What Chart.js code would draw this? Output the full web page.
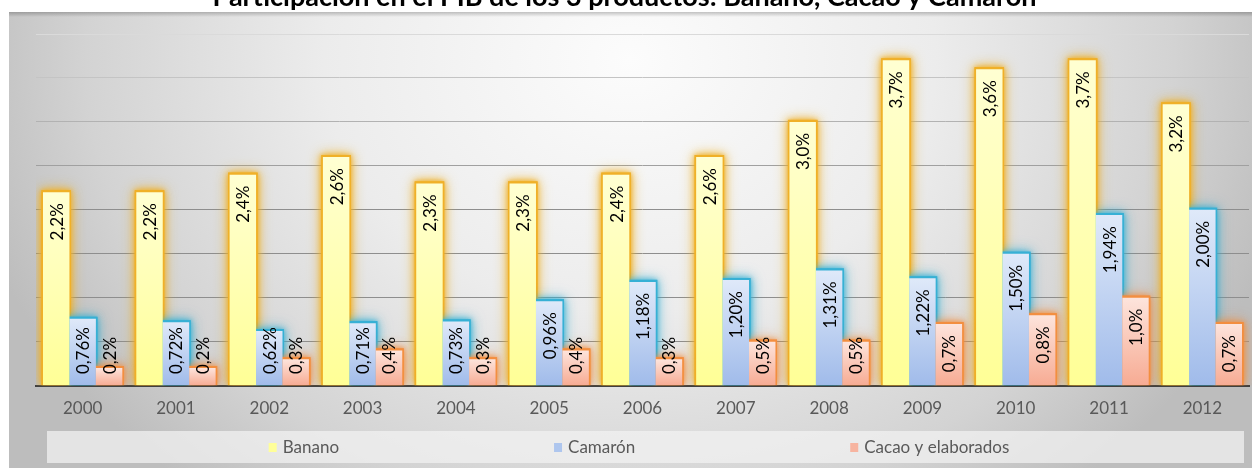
<!DOCTYPE html>
<html>
<head>
<meta charset="utf-8">
<title>Participación en el PIB</title>
<script src="https://cdn.jsdelivr.net/npm/chart.js@4.4.1/dist/chart.umd.min.js"></script>
<style>
  html, body { margin: 0; padding: 0; background: #fff; }
  #wrap { width: 1252px; height: 468px; }
</style>
</head>
<body>
<div id="wrap"><canvas id="pibChart" width="1252" height="468"></canvas></div>
<script>
  // datos (% del PIB)
  var years = ['2000', '2001', '2002', '2003', '2004', '2005', '2006', '2007', '2008', '2009', '2010', '2011', '2012'];
  var banano = [2.2, 2.2, 2.4, 2.6, 2.3, 2.3, 2.4, 2.6, 3.0, 3.7, 3.6, 3.7, 3.2];
  var camaron = [0.76, 0.72, 0.62, 0.71, 0.73, 0.96, 1.18, 1.20, 1.31, 1.22, 1.50, 1.94, 2.00];
  var cacao = [0.2, 0.2, 0.3, 0.4, 0.3, 0.4, 0.3, 0.5, 0.5, 0.7, 0.8, 1.0, 0.7];
  var seriesNames = ['Banano', 'Camarón', 'Cacao y elaborados'];
  var labelDecimals = [1, 2, 1];
  var yMin = 0, yMax = 4, yStep = 0.5;
  var chartTitle = 'Participación en el PIB de los 3 productos: Banano, Cacao y Camarón';

  var FONT = 'Lato';
  var fillStops = [['#ffffd2', '#ffff96'], ['#dfe9f9', '#a0bbea'], ['#fde4dc', '#f7ab93']];
  var legendColors = ['#ffff99', '#aec6ee', '#f7b4a0'];
  var glowColors = ['rgba(240,176,40,0.85)', 'rgba(55,176,212,0.8)', 'rgba(242,142,64,0.8)'];

  function barFill(i) {
    return function(c) {
      var chart = c.chart;
      if (!chart.chartArea || c.type !== 'data') { return fillStops[i][1]; }
      var y = chart.scales.y;
      var g = chart.ctx.createLinearGradient(0, y.getPixelForValue(c.raw), 0, y.getPixelForValue(0));
      g.addColorStop(0, fillStops[i][0]);
      g.addColorStop(1, fillStops[i][1]);
      return g;
    };
  }

  function gridColor(c) {
    var v = c.tick ? c.tick.value : 0;
    if (v >= 4) return '#dadada';
    if (v >= 3.5) return '#c4c4c4';
    if (v >= 3) return '#b2b2b2';
    if (v >= 2.5) return '#a0a0a0';
    return '#8e8e8e';
  }

  function fmt(v, dec) {
    return v.toFixed(dec).replace('.', ',') + '%';
  }

  // fondo gris con degradado (estilo Excel)
  var fondoPlugin = {
    id: 'fondo',
    beforeDraw: function(chart) {
      var ctx = chart.ctx, w = chart.width, h = chart.height;
      ctx.save();
      ctx.fillStyle = '#fff';
      ctx.fillRect(0, 0, w, h);
      var cx = 630, cy = 60, rx = 680, ry = 560;
      ctx.beginPath();
      ctx.rect(9, 12, w - 9, h - 12);
      ctx.clip();
      ctx.translate(cx, cy);
      ctx.scale(1, ry / rx);
      var g = ctx.createRadialGradient(0, 0, 0, 0, 0, rx);
      g.addColorStop(0, '#fcfcfc');
      g.addColorStop(0.45, '#ececec');
      g.addColorStop(0.8, '#d3d3d3');
      g.addColorStop(1, '#bdbdbd');
      ctx.fillStyle = g;
      ctx.fillRect(-cx, -cy * rx / ry, w * 2, h * 2 * rx / ry);
      ctx.restore();
      ctx.save();
      var t = ctx.createLinearGradient(0, 12, 0, 17);
      t.addColorStop(0, 'rgba(0,0,0,0.22)');
      t.addColorStop(1, 'rgba(0,0,0,0)');
      ctx.fillStyle = t;
      ctx.fillRect(9, 12, w - 9, 5);
      ctx.restore();
    }
  };

  // brillo alrededor de las barras y etiquetas verticales
  var brilloPlugin = {
    id: 'brillo',
    beforeDatasetsDraw: function(chart) {
      var ctx = chart.ctx, area = chart.chartArea;
      ctx.save();
      ctx.beginPath();
      ctx.rect(area.left, area.top - 25, area.right - area.left + 10, area.bottom - area.top + 25);
      ctx.clip();
      chart.data.datasets.forEach(function(ds, i) {
        var meta = chart.getDatasetMeta(i);
        [14, 8, 4].forEach(function(blur) {
          ctx.save();
          ctx.shadowColor = glowColors[i];
          ctx.shadowBlur = blur;
          ctx.fillStyle = glowColors[i];
          meta.data.forEach(function(bar) {
            var p = bar.getProps(['x', 'y', 'base', 'width'], true);
            ctx.fillRect(p.x - p.width / 2 - 1.5, p.y - 2, p.width + 3, p.base - p.y + 2);
          });
          ctx.restore();
        });
      });
      ctx.restore();
    },
    afterDatasetsDraw: function(chart) {
      var ctx = chart.ctx, pad = 11;
      ctx.save();
      ctx.font = '17px ' + FONT;
      ctx.fillStyle = '#000';
      ctx.textAlign = 'right';
      ctx.textBaseline = 'middle';
      chart.data.datasets.forEach(function(ds, i) {
        var meta = chart.getDatasetMeta(i);
        meta.data.forEach(function(bar, j) {
          var p = bar.getProps(['x', 'y', 'base'], true);
          var txt = fmt(ds.data[j], labelDecimals[i]);
          var len = ctx.measureText(txt).width;
          var top = p.y + pad;
          if (top + len > p.base - pad) { top = p.base - pad - len; }
          ctx.save();
          ctx.translate(p.x + 1, top);
          ctx.rotate(-Math.PI / 2);
          ctx.fillText(txt, 0, 0);
          ctx.restore();
        });
      });
      ctx.restore();
    }
  };

  // leyenda dentro de una banda gris clara
  var leyendaPlugin = {
    id: 'leyenda',
    afterDraw: function(chart) {
      var ctx = chart.ctx;
      var boxL = 47, boxT = 431, boxW = 1197, boxH = 32, gap = 215, center = 639, midY = 448;
      ctx.save();
      ctx.fillStyle = 'rgba(242,242,242,0.72)';
      ctx.fillRect(boxL, boxT, boxW, boxH);
      ctx.font = '17px ' + FONT;
      ctx.textBaseline = 'middle';
      ctx.textAlign = 'left';
      var items = chart.data.datasets.map(function(ds, i) {
        return { text: ds.label, color: legendColors[i], w: 8 + 6 + ctx.measureText(ds.label).width };
      });
      var total = items.reduce(function(s, it) { return s + it.w; }, 0) + gap * (items.length - 1);
      var x = center - total / 2;
      items.forEach(function(it) {
        ctx.fillStyle = it.color;
        ctx.fillRect(x, midY - 5, 8, 9);
        ctx.fillStyle = '#595959';
        ctx.fillText(it.text, x + 14, midY);
        x += it.w + gap;
      });
      ctx.restore();
    }
  };

  function init() {
    var ctx = document.getElementById('pibChart').getContext('2d');
    var series = [banano, camaron, cacao];

    new Chart(ctx, {
      type: 'bar',
      data: {
        labels: years,
        datasets: series.map(function(values, i) {
          return {
            label: seriesNames[i],
            data: values,
            backgroundColor: barFill(i),
            borderWidth: 0,
            barPercentage: 1,
            categoryPercentage: 0.85
          };
        })
      },
      options: {
        responsive: false,
        animation: false,
        layout: { padding: { left: 0, right: 3, top: 0, bottom: 36 } },
        plugins: {
          legend: { display: false },
          tooltip: { enabled: false },
          title: {
            display: true,
            text: chartTitle,
            color: '#000',
            font: { family: FONT, size: 27, weight: 'bold', lineHeight: 1 },
            padding: { top: -16, bottom: 23 }
          }
        },
        scales: {
          x: {
            grid: { display: false, drawTicks: false },
            border: { display: true, color: '#404040', width: 2 },
            ticks: { color: '#595959', font: { family: FONT, size: 17 }, padding: 13, maxRotation: 0 }
          },
          y: {
            min: yMin,
            max: yMax,
            afterFit: function(scale) { scale.width = 36; },
            ticks: { display: false, stepSize: yStep },
            grid: { color: gridColor, lineWidth: 1, drawTicks: false },
            border: { display: false }
          }
        }
      },
      plugins: [fondoPlugin, brilloPlugin, leyendaPlugin]
    });
  }

  if (document.fonts && document.fonts.load) {
    Promise.all([
      document.fonts.load('17px ' + FONT),
      document.fonts.load('bold 27px ' + FONT)
    ]).then(init, init);
  } else {
    init();
  }
</script>
</body>
</html>
